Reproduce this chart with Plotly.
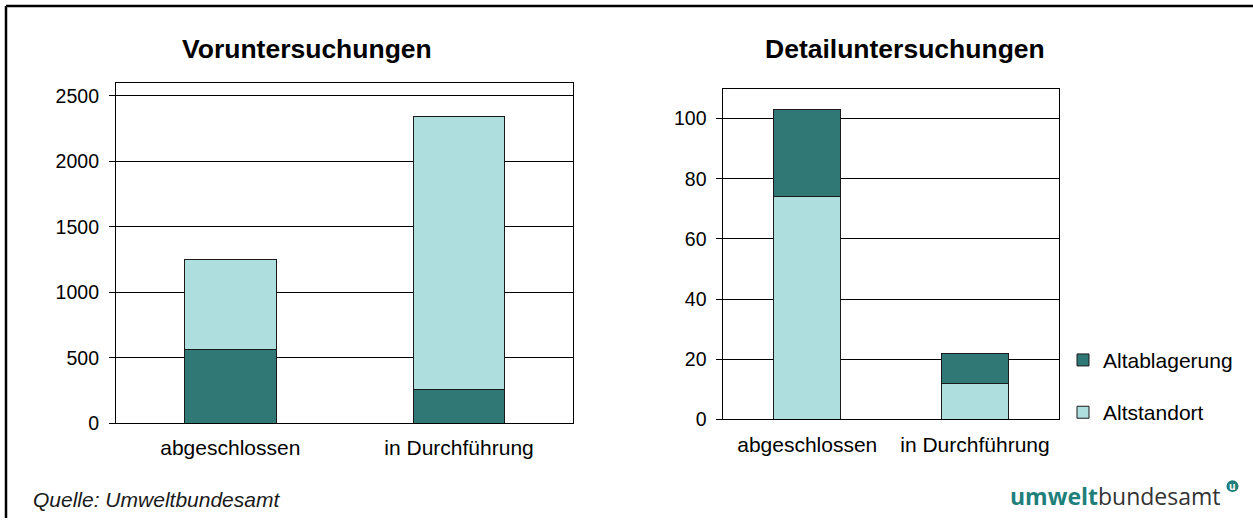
import plotly.graph_objects as go

W, H = 1253, 529

categories = ["abgeschlossen", "in Durchführung"]

# Voruntersuchungen
vor_altablagerung = [560, 256]
vor_altstandort = [694, 2087]

# Detailuntersuchungen
det_altstandort = [74, 12]
det_altablagerung = [29, 10]

vor_ticks = [0, 500, 1000, 1500, 2000, 2500]
det_ticks = [0, 20, 40, 60, 80, 100]

titles = ["Voruntersuchungen", "Detailuntersuchungen"]
source_text = "Quelle: Umweltbundesamt"

DARK = "#307876"
LIGHT = "#AEDEDD"
FONT = "Liberation Sans, Arial, sans-serif"


def px_x(x):
    return x / W


def px_y(y):
    return 1 - y / H


fig = go.Figure()

bar_line = dict(color="#1a1a1a", width=1)

# left chart: Altablagerung at bottom
fig.add_trace(go.Bar(x=categories, y=vor_altablagerung, name="Altablagerung",
                     marker=dict(color=DARK, line=bar_line), xaxis="x", yaxis="y",
                     showlegend=False, legendgroup="a"))
fig.add_trace(go.Bar(x=categories, y=vor_altstandort, name="Altstandort",
                     marker=dict(color=LIGHT, line=bar_line), xaxis="x", yaxis="y",
                     showlegend=False, legendgroup="b"))
# right chart: Altstandort at bottom
fig.add_trace(go.Bar(x=categories, y=det_altstandort, name="Altstandort",
                     marker=dict(color=LIGHT, line=bar_line), xaxis="x2", yaxis="y2",
                     showlegend=True, legendgroup="b", legendrank=2))
fig.add_trace(go.Bar(x=categories, y=det_altablagerung, name="Altablagerung",
                     marker=dict(color=DARK, line=bar_line), xaxis="x2", yaxis="y2",
                     showlegend=True, legendgroup="a", legendrank=1))

xcommon = dict(showline=True, mirror=True, linecolor="black", linewidth=1,
               showgrid=False, ticks="", tickfont=dict(size=21, color="black", family=FONT),
               ticklabelstandoff=6, fixedrange=True)
ycommon = dict(showline=True, mirror=True, linecolor="black", linewidth=1,
               showgrid=True, gridcolor="black", gridwidth=1, zeroline=False,
               ticks="outside", ticklen=6, tickcolor="black", tickwidth=1,
               ticklabelstandoff=6,
               tickfont=dict(size=19.5, color="black", family=FONT), fixedrange=True)

fig.update_layout(
    width=W, height=H,
    margin=dict(l=0, r=0, t=0, b=0),
    paper_bgcolor="white", plot_bgcolor="white",
    barmode="stack", bargap=0.6,
    font=dict(family=FONT, color="black"),
    xaxis=dict(domain=[px_x(115.9), px_x(573.4)], anchor="y", **xcommon),
    yaxis=dict(domain=[px_y(432.2), px_y(84.6)], anchor="x", range=[0, 2600],
               tickvals=vor_ticks, **ycommon),
    xaxis2=dict(domain=[px_x(723.4), px_x(1058.8)], anchor="y2", **xcommon),
    yaxis2=dict(domain=[px_y(428.4), px_y(90.4)], anchor="x2", range=[0, 110],
                tickvals=det_ticks, **ycommon),
    legend=dict(x=px_x(1063), y=px_y(347), xanchor="left", yanchor="top",
                font=dict(size=21, color="black", family=FONT),
                tracegroupgap=22, traceorder="grouped", bgcolor="rgba(0,0,0,0)"),
    showlegend=True,
)

annotations = [
    dict(text="<b>%s</b>" % titles[0], x=px_x(306.5), y=px_y(50), xref="paper", yref="paper",
         xanchor="center", yanchor="middle", showarrow=False,
         font=dict(size=26.5, color="black", family=FONT)),
    dict(text="<b>%s</b>" % titles[1], x=px_x(904.6), y=px_y(50), xref="paper", yref="paper",
         xanchor="center", yanchor="middle", showarrow=False,
         font=dict(size=26.5, color="black", family=FONT)),
    dict(text="<i>%s</i>" % source_text, x=px_x(31), y=px_y(510), xref="paper", yref="paper",
         xanchor="left", yanchor="middle", showarrow=False,
         font=dict(size=21, color="#1a1a1a", family=FONT)),
    dict(text='<span style="color:#1f7f7b"><b>umwelt</b></span><span style="color:#333333">bundesamt</span>',
         x=px_x(1223), y=px_y(507), xref="paper", yref="paper",
         xanchor="right", yanchor="middle", showarrow=False,
         font=dict(size=23, family="Open Sans, sans-serif")),
    dict(text="<b>u</b>", x=px_x(1232.5), y=px_y(496.5), xref="paper", yref="paper",
         xanchor="center", yanchor="middle", showarrow=False,
         font=dict(size=10, color="white", family="Open Sans, sans-serif")),
]
fig.update_layout(annotations=annotations)

shapes = [
    dict(type="line", xref="paper", yref="paper", x0=px_x(6), y0=px_y(6), x1=1.0, y1=px_y(6),
         line=dict(color="black", width=2.5), layer="above"),
    dict(type="line", xref="paper", yref="paper", x0=px_x(6), y0=px_y(6), x1=px_x(6), y1=0.0,
         line=dict(color="black", width=2.5), layer="above"),
    dict(type="circle", xref="paper", yref="paper", x0=px_x(1226.5), x1=px_x(1238.5),
         y0=px_y(502.5), y1=px_y(490.5), fillcolor="#1f7f7b", line=dict(width=0), layer="below"),
]
fig.update_layout(shapes=shapes)

post = (
    "document.documentElement.style.margin='0';"
    "document.documentElement.style.overflow='hidden';"
    "document.body.style.margin='0';document.body.style.padding='0';"
    "document.body.style.overflow='hidden';"
    "var d=document.getElementById('{plot_id}');"
    "d.style.position='fixed';d.style.left='0px';d.style.top='0px';"
)
fig.write_html("out.html", config={"displayModeBar": False}, post_script=post)
